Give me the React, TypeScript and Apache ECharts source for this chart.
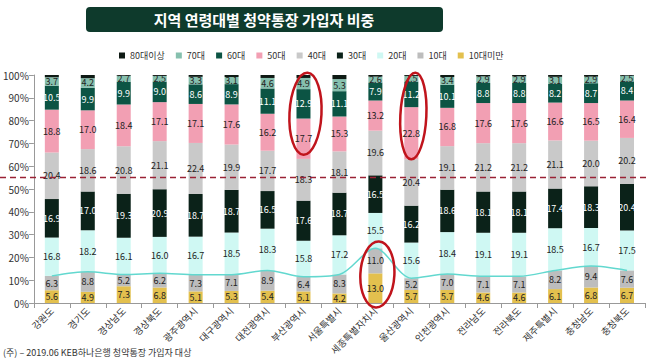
import React, { useEffect, useRef } from "react";
import * as echarts from "echarts";

const regions = ["강원도", "경기도", "경상남도", "경상북도", "광주광역시", "대구광역시", "대전광역시", "부산광역시", "서울특별시", "세종특별자치시", "울산광역시", "인천광역시", "전라남도", "전라북도", "제주특별시", "충청남도", "충청북도"];

const under10 = [5.6, 4.9, 7.3, 6.8, 5.1, 5.3, 5.4, 5.1, 4.2, 13.0, 5.7, 5.7, 4.6, 4.6, 6.1, 6.8, 6.7];
const age10 = [6.3, 8.8, 5.2, 6.2, 7.3, 7.1, 8.9, 6.4, 8.3, 11.0, 5.2, 7.0, 7.1, 7.1, 8.2, 9.4, 7.6];
const age20 = [16.8, 18.2, 16.1, 16.0, 16.7, 18.5, 18.3, 15.8, 17.2, 15.5, 15.6, 18.4, 19.1, 19.1, 18.5, 16.7, 17.5];
const age30 = [16.9, 17.0, 19.3, 20.9, 18.7, 18.7, 16.5, 17.6, 18.7, 16.5, 16.2, 18.6, 18.1, 18.1, 17.4, 18.3, 20.4];
const age40 = [20.4, 18.6, 20.8, 21.1, 22.4, 19.9, 17.7, 18.3, 18.1, 19.6, 20.4, 19.1, 21.2, 21.2, 21.1, 20.0, 20.2];
const age50 = [18.8, 17.0, 18.4, 17.1, 17.1, 17.6, 16.2, 17.7, 15.3, 13.2, 22.8, 16.8, 17.6, 17.6, 16.6, 16.5, 16.4];
const age60 = [10.5, 9.9, 9.9, 9.0, 8.6, 8.9, 11.1, 12.9, 11.1, 7.9, 11.2, 10.1, 8.8, 8.8, 8.2, 8.7, 8.4];
const age70 = [3.7, 4.2, 2.7, 2.5, 3.3, 3.1, 4.6, 4.9, 5.3, 2.6, 2.5, 3.4, 2.9, 2.9, 3.1, 2.9, 2.5];
const age80 = [1.0, 1.4, 0.3, 0.4, 0.8, 0.9, 1.3, 1.3, 1.8, 0.7, 0.4, 0.9, 0.6, 0.6, 0.8, 0.7, 0.3];

const yTicks = [0, 10, 20, 30, 40, 50, 60, 70, 80, 90, 100];
const referenceLevel = 55;

const seriesDefs = [
  { name: "10대미만", data: under10, color: "#e3c04e", label: "#222" },
  { name: "10대", data: age10, color: "#bdbdbd", label: "#222" },
  { name: "20대", data: age20, color: "#cff8f3", label: "#222" },
  { name: "30대", data: age30, color: "#0b2219", label: "#fff" },
  { name: "40대", data: age40, color: "#c9c9c9", label: "#222" },
  { name: "50대", data: age50, color: "#f29fb3", label: "#222" },
  { name: "60대", data: age60, color: "#0c5444", label: "#fff" },
  { name: "70대", data: age70, color: "#86c0ae", label: "#222" },
  { name: "80대이상", data: age80, color: "#0e1a14", label: null },
];

const legendOrder = ["80대이상", "70대", "60대", "50대", "40대", "30대", "20대", "10대", "10대미만"];

const circled = [
  { cat: "부산광역시", from: 65, to: 101, rx: 16 },
  { cat: "세종특별자치시", from: -2, to: 27, rx: 17 },
  { cat: "울산광역시", from: 63, to: 101, rx: 13 },
];

const FONT = "'Noto Sans CJK KR', 'Noto Sans', sans-serif";

export default function App() {
  const ref = useRef<HTMLDivElement>(null);
  useEffect(() => {
    if (!ref.current) return;
    const chart = echarts.init(ref.current, null, { renderer: "svg" });
    const youngSum = under10.map((v, i) => +(v + age10[i]).toFixed(1));
    const series: any[] = seriesDefs.map((s) => ({
      name: s.name,
      type: "bar",
      stack: "total",
      barWidth: 14,
      data: s.data,
      itemStyle: { color: s.color },
      label: s.label
        ? {
            show: true,
            position: "inside",
            color: s.label,
            fontSize: 9,
            fontFamily: FONT,
            formatter: (p: any) => Number(p.value).toFixed(1),
          }
        : { show: false },
    }));
    series.push({
      name: "line",
      type: "line",
      data: youngSum,
      smooth: 0.3,
      symbol: "none",
      lineStyle: { color: "#62d8cf", width: 1.5 },
      z: 5,
      silent: true,
    });
    chart.setOption({
      animation: false,
      textStyle: { fontFamily: FONT },
      grid: { left: 33, right: 3, top: 75, bottom: 57 },
      legend: {
        data: legendOrder.map((n) => ({ name: n, icon: "rect" })),
        top: 46,
        left: 114,
        itemWidth: 6,
        itemHeight: 6,
        itemGap: 11,
        textStyle: { fontSize: 9, color: "#333", fontFamily: FONT },
      },
      xAxis: {
        type: "category",
        data: regions,
        axisLine: { lineStyle: { color: "#999" } },
        axisTick: { show: true, lineStyle: { color: "#999" } },
        axisLabel: { rotate: 45, fontSize: 9.5, color: "#333", interval: 0, margin: 6, fontFamily: FONT },
      },
      yAxis: {
        type: "value",
        min: yTicks[0],
        max: yTicks[yTicks.length - 1],
        interval: 10,
        axisLine: { show: true, lineStyle: { color: "#999" } },
        axisTick: { show: true, lineStyle: { color: "#999" } },
        splitLine: { show: false },
        axisLabel: { fontSize: 10, color: "#333", formatter: (v: number) => v + "%", margin: 5 },
      },
      series,
    });

    const graphics: any[] = [
      {
        type: "rect",
        shape: { x: 86, y: 7, width: 357, height: 25, r: 4 },
        style: { fill: "#0e3a2c" },
      },
      {
        type: "text",
        x: 264,
        y: 19.5,
        style: {
          text: "지역 연령대별 청약통장 가입자 비중",
          fill: "#fff",
          fontSize: 15,
          fontWeight: "bold",
          fontFamily: FONT,
          align: "center",
          verticalAlign: "middle",
        },
      },
      {
        type: "text",
        x: 3,
        y: 352,
        style: {
          text: "(주) – 2019.06 KEB하나은행 청약통장 가입자 대상",
          fill: "#333",
          fontSize: 9,
          fontFamily: FONT,
          verticalAlign: "middle",
        },
      },
    ];
    const refY = chart.convertToPixel({ gridIndex: 0 }, [regions[0], referenceLevel]) as number[];
    graphics.push({
      type: "line",
      shape: { x1: 0, y1: refY[1], x2: 648, y2: refY[1] },
      style: { stroke: "#9a2235", lineWidth: 1.5, lineDash: [6, 4] },
      z: 10,
    });
    circled.forEach((c) => {
      const top = chart.convertToPixel({ gridIndex: 0 }, [c.cat, c.to]) as number[];
      const bot = chart.convertToPixel({ gridIndex: 0 }, [c.cat, c.from]) as number[];
      const cx = top[0] + 2;
      const cy = (top[1] + bot[1]) / 2;
      graphics.push({
        type: "ellipse",
        x: cx,
        y: cy,
        rotation: -0.05,
        shape: { cx: 0, cy: 0, rx: c.rx, ry: (bot[1] - top[1]) / 2 },
        style: { fill: "none", stroke: "#c0141c", lineWidth: 2.5 },
        z: 20,
      });
    });
    chart.setOption({ graphic: graphics });
    return () => chart.dispose();
  }, []);
  return <div ref={ref} style={{ width: 648, height: 360, position: "absolute", left: 0, top: 0 }} />;
}
